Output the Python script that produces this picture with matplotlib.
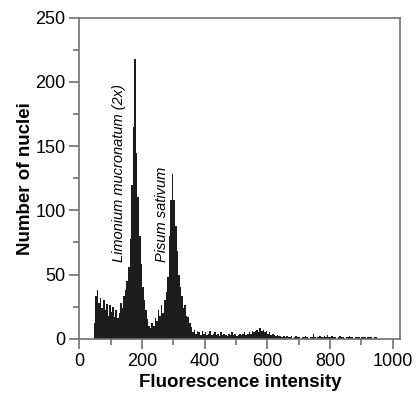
import numpy as np
import matplotlib.pyplot as plt

plt.rcParams['font.family'] = ['Liberation Sans', 'DejaVu Sans']

# histogram: channel bin start (width 5) and counts
bin_width = 5
bin_start = np.arange(40, 955, bin_width)
counts = [
    0, 12, 33, 38, 28, 32, 24, 30, 22, 27,          # 40-85
    18, 26, 21, 25, 17, 22, 16, 20, 28, 24,         # 90-135
    33, 38, 45, 56, 78, 120, 165, 218, 145, 110,    # 140-185
    80, 58, 40, 30, 22, 15, 10, 8, 12, 10,          # 190-235
    16, 14, 22, 18, 26, 20, 30, 36, 48, 80,         # 240-285
    108, 128, 108, 88, 68, 50, 40, 33, 24, 26,      # 290-335
    18, 17, 12, 9, 5, 7, 4, 6, 5, 3,                # 340-385
    6, 4, 5, 3, 4, 6, 3, 4, 5, 3,                   # 390-435
    4, 2, 5, 3, 4, 3, 2, 4, 3, 5,                   # 440-485
    3, 4, 2, 3, 4, 3, 4, 5, 3, 4,                   # 490-535
    5, 4, 6, 5, 6, 7, 5, 8, 6, 7,                   # 540-585
    5, 6, 4, 5, 3, 4, 3, 2, 3, 2,                   # 590-635
    2, 1, 2, 1, 2, 1, 1, 2, 0, 1,                   # 640-685
    2, 1, 1, 0, 1, 1, 2, 1, 0, 1,                   # 690-735
    1, 4, 1, 0, 1, 2, 1, 1, 2, 1,                   # 740-785
    3, 1, 1, 2, 1, 1, 0, 1, 2, 1,                   # 790-835
    1, 0, 1, 1, 2, 1, 1, 0, 1, 1,                   # 840-885
    1, 0, 1, 1, 1, 0, 1, 1, 1, 0,                   # 890-935
    1, 1, 0,                                        # 940-950
]
counts = counts[:len(bin_start)]
bin_start = bin_start[:len(counts)]

x_ticks = [0, 200, 400, 600, 800, 1000]
y_ticks = [0, 50, 100, 150, 200, 250]

fig = plt.figure(figsize=(4.19, 3.95), dpi=100)
ax = fig.add_axes([0.1897, 0.1425, 0.9547 - 0.1897, 0.9552 - 0.1425])

ax.bar(bin_start, counts, width=bin_width, align='edge',
       color='#1c1c1c', linewidth=0)

ax.set_xlim(0, 1024)
ax.set_ylim(0, 250)
ax.set_xticks(x_ticks)
ax.set_yticks(y_ticks)
ax.set_xticks(np.arange(100, 1000, 200), minor=True)
ax.set_yticks(np.arange(25, 250, 50), minor=True)

spine_col = '#707070'
for s in ax.spines.values():
    s.set_color(spine_col)
    s.set_linewidth(1.2)
ax.tick_params(which='major', direction='out', length=7, width=1.2,
               color=spine_col, labelsize=13, pad=3)
ax.tick_params(which='minor', direction='out', length=4, width=1.2,
               color=spine_col)

ax.set_xlabel('Fluorescence intensity', fontsize=13.5, fontweight='bold',
              labelpad=3)
ax.set_ylabel('Number of nuclei', fontsize=13.5, fontweight='bold',
              labelpad=1)

ax.text(126, 60, 'Limonium mucronatum (2x)', rotation=90, style='italic',
        ha='center', va='bottom', fontsize=10.5)
ax.text(264, 60, 'Pisum sativum', rotation=90, style='italic',
        ha='center', va='bottom', fontsize=10.5)

fig.savefig('out.png', dpi=100)
